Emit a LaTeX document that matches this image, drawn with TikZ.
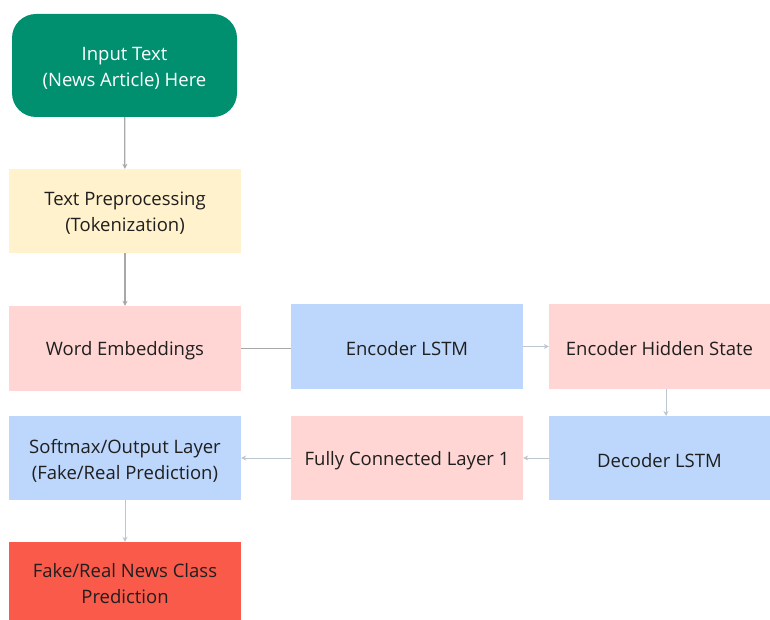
\documentclass[tikz,border=0pt]{standalone}
\usepackage{fontspec}
\setmainfont{Open Sans}
\usetikzlibrary{arrows.meta}
\definecolor{cgreen}{HTML}{009070}
\definecolor{cyellow}{HTML}{FFF2CC}
\definecolor{cpink}{HTML}{FFD6D3}
\definecolor{cblue}{HTML}{BCD6FC}
\definecolor{cred}{HTML}{F95A4A}
\definecolor{ctext}{HTML}{1F1F1F}
\definecolor{cline}{HTML}{A8A8A8}
\definecolor{clinel}{HTML}{BCC6CE}
\tikzset{
  box/.style={rectangle, inner sep=0pt},
  txt/.style={inner sep=0pt, align=center, font=\fontsize{18.5}{26}\selectfont, text=ctext},
  conn/.style={draw=cline, line width=1.2pt, -{Stealth[length=5pt,width=5pt]}},
  connl/.style={draw=clinel, line width=1pt, -{Stealth[length=5pt,width=5pt]}},
}
\begin{document}
\begin{tikzpicture}[x=1pt,y=-1pt]
\useasboundingbox (0,0) rectangle (770,620);
\node[box, fill=cgreen, rounded corners=24pt, minimum width=225pt, minimum height=103pt] (input) at (124.5,65.5) {};
\node[box, fill=cyellow, minimum width=232pt, minimum height=84pt] (prep) at (125,211) {};
\node[box, fill=cpink, minimum width=232pt, minimum height=85pt] (emb) at (125,348.5) {};
\node[box, fill=cblue, minimum width=232pt, minimum height=85pt] (enc) at (407,346.5) {};
\node[box, fill=cpink, minimum width=221pt, minimum height=85pt] (hid) at (659.5,346.5) {};
\node[box, fill=cblue, minimum width=232pt, minimum height=84pt] (soft) at (125,458) {};
\node[box, fill=cpink, minimum width=232pt, minimum height=84pt] (fc) at (407,458) {};
\node[box, fill=cblue, minimum width=221pt, minimum height=84pt] (dec) at (659.5,458) {};
\node[box, fill=cred, minimum width=232pt, minimum height=78pt] (out) at (125,581) {};
\node[txt, text=white] (inputt) at ([yshift=-2.5pt]input.center) {Input Text\\(News Article) Here};
\node[txt] (prept) at ([yshift=-2.5pt]prep.center) {Text Preprocessing\\(Tokenization)};
\node[txt] (embt) at ([yshift=-2.5pt]emb.center) {Word Embeddings};
\node[txt] (enct) at ([yshift=-2pt]enc.center) {Encoder LSTM};
\node[txt] (hidt) at ([yshift=-2pt]hid.center) {Encoder Hidden State};
\node[txt] (softt) at ([yshift=-2.5pt]soft.center) {Softmax/Output Layer\\(Fake/Real Prediction)};
\node[txt] (fct) at ([yshift=-2.5pt]fc.center) {Fully Connected Layer 1};
\node[txt] (dect) at ([yshift=-2.5pt]dec.center) {Decoder LSTM};
\node[txt] (outt) at ([yshift=-2.5pt]out.center) {Fake/Real News Class\\Prediction};
\draw[conn] (input) -- (prep);
\draw[conn] (prep) -- (emb);
\draw[draw=cline, line width=1.2pt] (emb.east) -- (enc.west |- emb.east);
\draw[connl] (enc) -- (hid);
\draw[connl] (hid.south -| 666,0) -- (666,416);
\draw[connl] (dec) -- (fc);
\draw[connl] (fc) -- (soft);
\draw[connl] (soft) -- (out);
\end{tikzpicture}
\end{document}
